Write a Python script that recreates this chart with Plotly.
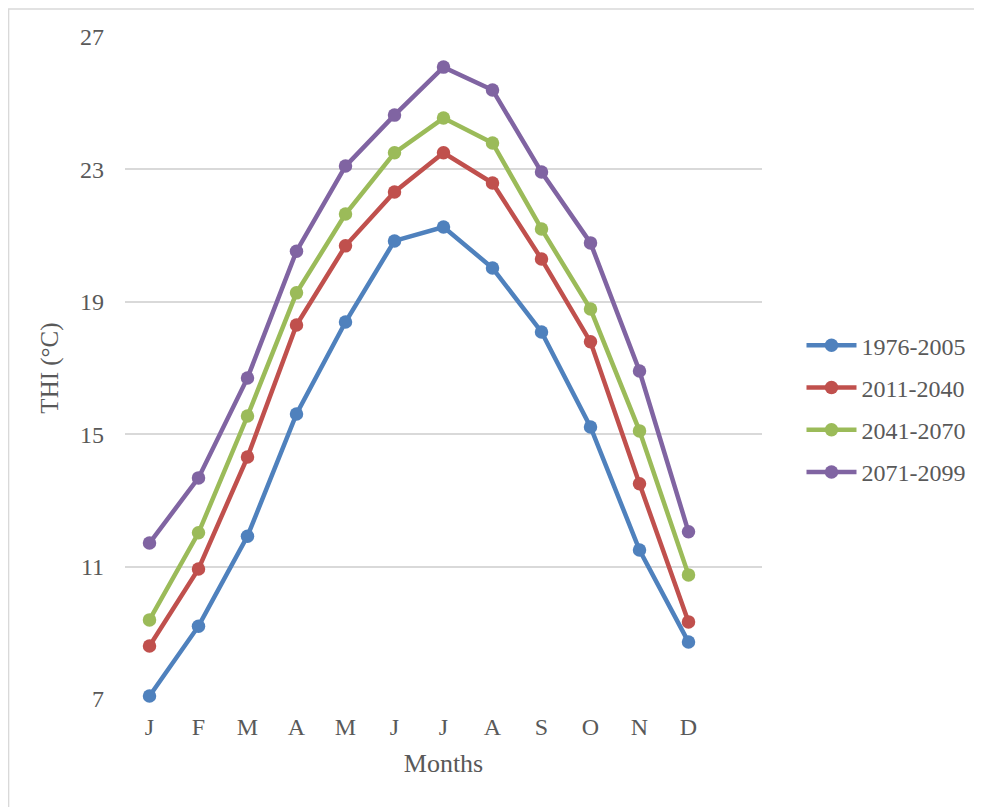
import plotly.graph_objects as go

months = ["J", "F", "M", "A", "M", "J", "J", "A", "S", "O", "N", "D"]
series_names = ["1976-2005", "2011-2040", "2041-2070", "2071-2099"]
thi_1976_2005 = [7.09, 9.20, 11.92, 15.61, 18.39, 20.84, 21.26, 20.02, 18.09, 15.22, 11.50, 8.72]
thi_2011_2040 = [8.60, 10.93, 14.31, 18.30, 20.69, 22.32, 23.50, 22.59, 20.29, 17.79, 13.50, 9.33]
thi_2041_2070 = [9.39, 12.02, 15.55, 19.27, 21.65, 23.50, 24.55, 23.80, 21.20, 18.78, 15.10, 10.75]
thi_2071_2099 = [11.71, 13.68, 16.70, 20.53, 23.10, 24.64, 26.09, 25.40, 22.92, 20.78, 16.91, 12.05]
y_ticks = [7, 11, 15, 19, 23, 27]

colors = ["#4F81BD", "#C0504D", "#9BBB59", "#8064A2"]
all_series = [thi_1976_2005, thi_2011_2040, thi_2041_2070, thi_2071_2099]
idx = list(range(len(months)))

fig = go.Figure()
for name, vals, c in zip(series_names, all_series, colors):
    fig.add_trace(go.Scatter(
        x=idx, y=vals, name=name, mode="lines+markers", legendgroup=name,
        line=dict(color=c, width=4.5),
        marker=dict(color=c, size=13.5),
        cliponaxis=False,
    ))

font_family = "Liberation Serif"
fig.update_layout(
    width=974, height=799,
    margin=dict(l=117, r=217, t=29, b=108),
    paper_bgcolor="white", plot_bgcolor="white",
    font=dict(family=font_family, color="#595959", size=24),
    showlegend=True,
    legend=dict(x=1.062, y=0.4385, xanchor="left", yanchor="middle",
                font=dict(size=24, color="#595959", family=font_family),
                tracegroupgap=8, itemwidth=50),
    xaxis=dict(
        range=[-0.5, 12.5], tickmode="array", tickvals=idx, ticktext=months,
        showgrid=False, zeroline=False, showline=False,
        ticks="", ticklabelstandoff=11,
        tickfont=dict(size=24, color="#595959"),
        title=dict(text="Months", font=dict(size=26, color="#595959"), standoff=14),
        fixedrange=True,
    ),
    yaxis=dict(
        range=[7, 27], tickvals=y_ticks, showgrid=True,
        gridcolor="#D9D9D9", gridwidth=1.5, zeroline=False, showline=False,
        ticks="", ticklabelstandoff=20,
        tickfont=dict(size=24, color="#595959"),
        title=dict(text="THI (°C)", font=dict(size=25, color="#595959"), standoff=14),
        fixedrange=True,
    ),
)

# Chart outer border
fig.add_shape(type="rect", xref="paper", yref="paper",
              x0=-0.1828, x1=1.35, y0=-0.17, y1=1.0423,
              line=dict(color="#D9D9D9", width=1.5), fillcolor="rgba(0,0,0,0)",
              layer="below")

fig.write_html("out.html")
